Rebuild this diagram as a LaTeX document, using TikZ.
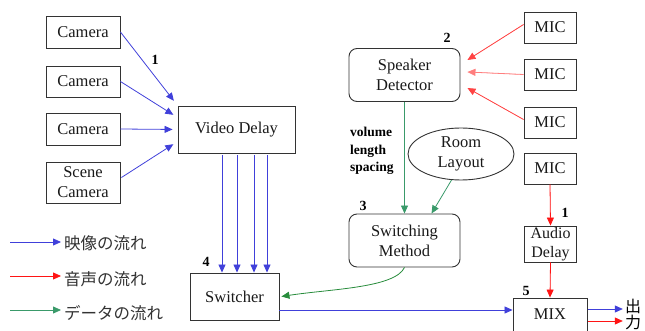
\documentclass[tikz,border=0pt]{standalone}
\usepackage{fontspec}
\setmainfont{Liberation Serif}
\newfontfamily\jpfont{Noto Sans CJK JP}
\usetikzlibrary{arrows.meta,calc,shapes.geometric}
\definecolor{flowblue}{RGB}{64,64,218}
\definecolor{flowred}{RGB}{255,20,20}
\definecolor{flowgreen}{RGB}{58,154,106}
\definecolor{darkflowgreen}{RGB}{40,140,60}
\tikzset{
  box/.style={draw=black!80, line width=0.9pt, inner sep=0pt, align=center,
    text=black!90, font=\fontsize{16.5}{20}\selectfont},
  rbox/.style={box, rounded corners=8pt},
  num/.style={font=\fontsize{14}{16}\selectfont\bfseries, inner sep=0pt},
  tip/.style={-{Triangle[length=8pt,width=7pt]}},
  vflow/.style={tip, draw=flowblue, line width=0.8pt},
  aflow/.style={tip, draw=flowred, fill=flowred, line width=0.8pt},
  dflow/.style={tip, draw=flowgreen, line width=0.8pt},
  legend/.style={anchor=west, inner sep=0pt, font=\jpfont\fontsize{16.5}{18}\selectfont, text=black!80},
}
\begin{document}
\begin{tikzpicture}[x=1pt,y=-1pt]
\useasboundingbox (0,0) rectangle (645,331);
% cameras
\node[box, minimum width=74pt, minimum height=32pt] (c1) at (83,32) {Camera};
\node[box, minimum width=74pt, minimum height=31pt] (c2) at (83,81.5) {Camera};
\node[box, minimum width=74pt, minimum height=32pt] (c3) at (83,129) {Camera};
\node[box, minimum width=74pt, minimum height=41pt] (sc) at (83,182.5) {Scene\\Camera};
\node[box, minimum width=117pt, minimum height=47pt] (vd) at (236.5,129.5) {Video Delay};
\node[num] (n1) at (155,60) {1};
% speaker detector etc.
\node[rbox, minimum width=111pt, minimum height=53pt] (sd) at (404.5,75) {Speaker\\Detector};
\node[num] (n2) at (447,38) {2};
\node[box, minimum width=52pt, minimum height=31pt] (m1) at (550,27.5) {MIC};
\node[box, minimum width=52pt, minimum height=31pt] (m2) at (550,74.5) {MIC};
\node[box, minimum width=52pt, minimum height=31pt] (m3) at (550,122.5) {MIC};
\node[box, minimum width=52pt, minimum height=31pt] (m4) at (550,168.5) {MIC};
\node[anchor=north west, inner sep=0pt, align=left, font=\fontsize{13.5}{17.5}\selectfont\bfseries] (vls) at (350,127) {volume\\length\\spacing};
\node[ellipse, draw=black!80, line width=0.9pt, minimum width=106pt, minimum height=52pt, inner sep=0pt, align=center, text=black!90, font=\fontsize{16.5}{20}\selectfont] (rl) at (461,154) {Room\\Layout};
\node[rbox, minimum width=111pt, minimum height=53pt] (sw) at (404.5,240.5) {Switching\\Method};
\node[num] (n3) at (363,206) {3};
\node[box, minimum width=52pt, minimum height=36pt, font=\fontsize{16}{19.5}\selectfont] (ad) at (550.5,244) {Audio\\Delay};
\node[num] (n1b) at (565,213) {1};
\node[box, minimum width=89pt, minimum height=47pt] (swt) at (234.5,296.5) {Switcher};
\node[num] (n4) at (206,262) {4};
\node[box, minimum width=74pt, minimum height=33pt] (mix) at (550,314.5) {MIX};
\node[num] (n5) at (526,291) {5};
\node[inner sep=0pt, align=center, font=\jpfont\fontsize{16}{16}\selectfont] (out) at (633,314) {出\\力};
% camera -> video delay
\draw[vflow, shorten >=6pt] (c1.east) -- (vd.north west);
\draw[vflow, shorten >=5pt] (c2.east) -- ($(vd.west)+(0,-12)$);
\draw[vflow, shorten >=5pt] (c3.east) -- (vd.west);
\draw[vflow, shorten >=5pt] ($(sc.east)+(1,-5)$) -- ($(vd.west)+(0,12)$);
% video delay -> switcher
\foreach \dx/\nm in {-14.5/a, 0.5/b, 17.5/c, 30.5/d} {
  \coordinate (vo\nm) at ($(vd.south)+(\dx,2)$);
  \draw[vflow] (vo\nm) -- (vo\nm |- swt.north);
}
% mics -> speaker detector
\draw[aflow, draw=flowred!80] ($(m1.west)+(0,-3)$) -- ($(sd.east)+(7,-15)$);
\draw[aflow, draw=flowred!55] (m2.west) -- ($(sd.east)+(7,-3)$);
\draw[aflow, draw=flowred!80] ($(m3.west)+(0,-3)$) -- ($(sd.east)+(7,13)$);
% data flow
\draw[dflow] (sd.south) -- (sw.north);
\draw[dflow] (rl.250) -- ($(sw.north)+(27,0)$);
\draw[tip, draw=darkflowgreen, line width=0.8pt] (sw.south) .. controls (395,288) and (330,289) .. ($(swt.east)+(2,0)$);
% audio
\draw[aflow] (m4.south) -- (ad.north);
\draw[aflow] (ad.south) -- (mix.north);
% switcher -> mix
\coordinate (swo) at ($(swt.east)+(0,13.5)$);
\draw[vflow] (swo) -- (swo -| mix.west);
% mix outputs
\coordinate (mo1) at ($(mix.east)+(1,-5.5)$);
\coordinate (mo2) at ($(mix.east)+(1,6.5)$);
\draw[vflow] (mo1) -- ($(mo1 -| out.west)+(-2,0)$);
\draw[aflow] (mo2) -- ($(mo2 -| out.west)+(-2,0)$);
% legend
\node[legend] (l1) at (64,243) {映像の流れ};
\node[legend] (l2) at (64,279) {音声の流れ};
\node[legend] (l3) at (64,313) {データの流れ};
\coordinate (ls1) at (10,242);
\coordinate (ls2) at (10,276);
\coordinate (ls3) at (10,310);
\draw[vflow, shorten >=3pt] (ls1) -- (ls1 -| l1.west);
\draw[aflow, shorten >=3pt] (ls2) -- (ls2 -| l2.west);
\draw[tip, draw=flowgreen, line width=0.8pt, shorten >=3pt] (ls3) -- (ls3 -| l3.west);
\end{tikzpicture}
\end{document}
